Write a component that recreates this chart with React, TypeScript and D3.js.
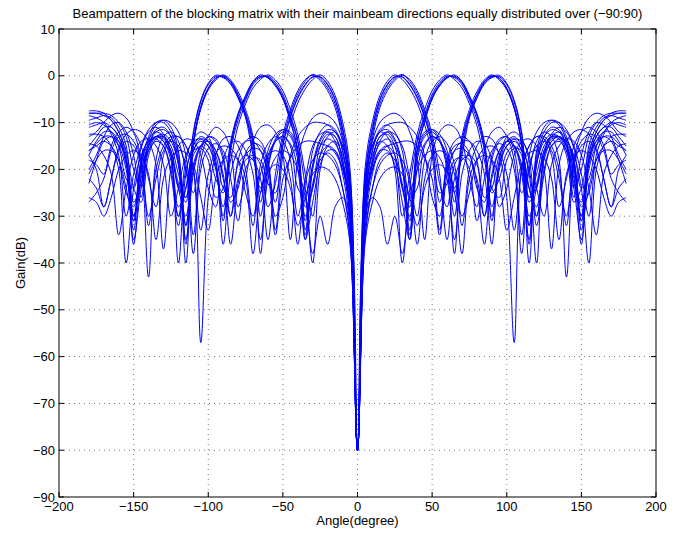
import React, { useEffect, useRef } from 'react';
import * as d3 from 'd3';

// angles of the right half (0..180 step 5); the picture is mirror-symmetric about 0
const angles = d3.range(0, 181, 5);

// beams with mainlobe near 27 deg
const beamA = [
  [-80,-22,-11,-5,-1.8,-0.2,-0.3,-2,-4.8,-9,-15,-27,-20,-16,-15.5,-17,-23,-36,-21,-16,-14,-15,-20,-32,-19,-13,-11,-11.5,-15,-26,-17,-12,-10,-10.5,-13,-17,-20],
  [-80,-25,-12.5,-6,-2.6,-0.6,0.3,-1.2,-3.8,-8,-13.5,-23,-28,-19,-17,-18,-22,-30,-18,-14,-13,-16,-25,-20,-14,-12,-13,-18,-43,-18,-12,-9,-8,-8.5,-10,-12,-13],
  [-80,-20,-9.8,-4.2,-1.2,0.2,-0.8,-2.8,-5.8,-10.5,-17,-33,-19,-15,-14.5,-16.5,-24,-27,-17,-13.5,-13,-15,-21,-35,-16,-11,-9.5,-10,-13,-19,-30,-15,-11,-9,-8.5,-9,-9.5],
  [-80,-23,-11.5,-5.2,-2,-0.3,-0.2,-1.8,-4.5,-8.8,-14.5,-25,-23,-18,-17.5,-20,-31,-22,-16,-14.5,-15.5,-20,-38,-20,-15,-14,-16,-22,-30,-19,-15,-14,-16,-22,-28,-24,-22],
  [-80,-26,-13.5,-6.8,-3.2,-1,0.1,-0.8,-3.2,-7.2,-12.5,-21,-35,-22,-18,-17,-19,-26,-24,-17,-14,-13.5,-16,-24,-28,-17,-13,-12,-13.5,-18,-33,-18,-13,-11,-11,-13,-15],
];

// beams with mainlobe near 62 deg
const beamB = [
  [-80,-26,-17,-14,-15,-20,-40,-24,-14,-9,-4.5,-1.8,-0.3,-0.2,-1.5,-4.8,-8.5,-15,-28,-20,-15,-14,-16,-24,-30,-18,-14,-13,-15,-21,-36,-19,-14,-12,-12,-14,-17],
  [-80,-28,-18,-13,-12.5,-15,-24,-30,-16,-9.8,-5,-2.2,-0.5,0.2,-1.2,-4.2,-8.4,-15,-31,-19,-14,-13,-15,-21,-40,-17,-12.5,-11,-12,-15.5,-24,-22,-15,-12,-10.5,-10,-10.5],
  [-80,-24,-15,-12,-13,-17,-30,-21,-12.5,-7.2,-3.2,-0.9,0.2,-0.8,-2.6,-6,-10.6,-18,-25,-22,-16.5,-15,-17,-27,-23,-16,-13,-13,-15,-20,-31,-17,-12,-9.5,-8.5,-8,-8],
  [-80,-30,-20,-16,-16,-19,-27,-35,-16,-9.5,-4.8,-2,-0.4,-0.1,-1.3,-4.4,-8,-14,-24,-26,-18,-15.5,-16,-20,-32,-21,-15,-13.5,-14,-18,-28,-25,-18,-15,-14,-15,-16],
  [-80,-27,-16,-12,-11.5,-13.5,-19,-33,-14,-8.4,-4,-1.4,-0.1,-0.4,-1.9,-5.2,-9.4,-16,-30,-18,-13,-12,-13.5,-18,-30,-20,-15,-14,-16,-23,-27,-18,-14,-13,-14,-18,-23],
];

// beams with mainlobe near 92 deg
const beamC = [
  [-80,-30,-18,-13,-12,-14,-20,-35,-18,-13,-12,-14,-20,-38,-14,-8,-4.2,-1.3,-0.1,-0.5,-2.6,-6.5,-14,-32,-18,-13,-11.5,-12,-15,-22,-30,-18,-13,-11,-10,-10.5,-11],
  [-80,-33,-21,-16,-15,-17,-24,-28,-16,-12,-11.5,-13.5,-19,-30,-14.5,-8.6,-4.6,-1.6,-0.2,0.1,-1.6,-5.2,-12,-26,-21,-15,-13,-13.5,-17,-27,-24,-16,-12,-9.5,-8,-7.5,-7.5],
  [-80,-28,-16,-11.5,-10.5,-12,-16,-26,-24,-15,-13,-14,-18,-27,-13,-7.2,-3.4,-0.9,0.2,-0.9,-3,-7,-15,-40,-19,-14,-12.5,-13,-16,-24,-35,-20,-15,-13,-13,-14.5,-16],
  [-80,-35,-24,-18,-16.5,-18,-23,-34,-20,-14.5,-13,-14,-17,-24,-17,-9,-4.8,-1.8,-0.4,-0.2,-1.9,-5.6,-12.5,-26,-24,-16,-13.5,-13,-14.5,-19,-31,-24,-18,-16,-16,-18,-21],
  [-80,-31,-19,-14.5,-13.5,-15,-19,-31,-17,-12.5,-11.5,-12.5,-16,-25,-16,-8.2,-4,-1.2,0,-0.6,-2.8,-7,-15,-36,-17,-12,-10,-10,-11.5,-15,-21,-30,-17,-12.5,-10,-9,-8.5],
];

// beams that stay in the sidelobe region
const beamLow = [
  [-80,-24,-14,-10,-8.5,-8,-9,-12,-18,-35,-17,-12,-10.5,-11,-14,-22,-28,-16,-12,-11,-13,-18,-34,-17,-12,-10,-9.5,-10.5,-14,-24,-20,-13,-10,-8.5,-8,-8,-8],
  [-80,-30,-19,-14,-12,-12.5,-15,-22,-30,-18,-14,-13,-14.5,-19,-32,-20,-15,-13,-13.5,-17,-26,-57,-20,-15,-13,-13.5,-17,-28,-22,-15,-12,-11,-12,-15,-22,-25,-27],
  [-80,-34,-24,-19,-17,-16.5,-18,-23,-36,-22,-17,-16,-17,-21,-30,-25,-18,-15.5,-15,-16.5,-21,-33,-20,-15,-13,-13,-15,-20,-32,-18,-14,-12.5,-13,-16,-21,-19,-18],
  [-80,-30,-26,-28,-36,-30,-38,-26,-20,-17,-16,-17.5,-22,-35,-21,-16,-14,-14.5,-18,-28,-24,-17,-14,-13.5,-15,-20,-37,-19,-14,-12,-11.5,-12.5,-15.5,-22,-28,-20,-17],
  [-80,-22,-15,-12,-10.5,-10,-10,-11,-13,-17,-26,-30,-18,-14,-13,-14,-18,-30,-22,-16,-14,-15,-19,-30,-24,-17,-14,-13,-14,-17,-24,-40,-20,-15,-13,-12.5,-12.5],
  [-80,-36,-27,-22,-20,-19.5,-21,-26,-32,-24,-20,-19,-20.5,-25,-38,-22,-18,-17,-18,-22,-33,-26,-19,-16.5,-16,-17.5,-22,-35,-21,-17,-16,-17,-20,-26,-30,-27,-26],
  [-80,-27,-20,-16.5,-15,-14.5,-14,-14,-15,-17.5,-22,-34,-21,-16,-14,-14,-16,-21,-36,-19,-15,-13.5,-14,-17,-24,-30,-19,-15,-13.5,-14,-17,-24,-34,-21,-17,-15,-14.5],
];

const xTicks = [-200, -150, -100, -50, 0, 50, 100, 150, 200];
const yTicks = [10, 0, -10, -20, -30, -40, -50, -60, -70, -80, -90];

const title = 'Beampattern of the blocking matrix with their mainbeam directions equally distributed over (\u221290:90)';

const App = () => {
  const svgRef = useRef<SVGSVGElement>(null);

  useEffect(() => {
    const svg = d3.select(svgRef.current);
    const width = 683;
    const height = 533;
    const margin = { top: 29, right: 27, bottom: 36, left: 59 };
    const innerWidth = width - margin.left - margin.right;
    const innerHeight = height - margin.top - margin.bottom;
    const font = 'Helvetica, Arial, "Liberation Sans", sans-serif';
    const fs = 13;

    const x = d3.scaleLinear().domain([-200, 200]).range([0, innerWidth]);
    const y = d3.scaleLinear().domain([-90, 10]).range([innerHeight, 0]);

    svg.append('rect').attr('width', width).attr('height', height).attr('fill', '#fff');

    const g = svg.append('g').attr('transform', `translate(${margin.left},${margin.top})`);

    g.append('defs')
      .append('clipPath')
      .attr('id', 'plot-clip')
      .append('rect')
      .attr('width', innerWidth)
      .attr('height', innerHeight);

    // dotted grid
    g.selectAll('.gx')
      .data(xTicks.slice(1, -1))
      .enter()
      .append('line')
      .attr('x1', (d) => x(d))
      .attr('x2', (d) => x(d))
      .attr('y1', 0)
      .attr('y2', innerHeight)
      .attr('stroke', '#777')
      .attr('stroke-width', 1)
      .attr('stroke-dasharray', '1,4');

    g.selectAll('.gy')
      .data(yTicks.slice(1, -1))
      .enter()
      .append('line')
      .attr('x1', 0)
      .attr('x2', innerWidth)
      .attr('y1', (d) => y(d))
      .attr('y2', (d) => y(d))
      .attr('stroke', '#777')
      .attr('stroke-width', 1)
      .attr('stroke-dasharray', '1,4');

    // beampatterns, mirrored to negative angles
    const curves = [...beamA, ...beamB, ...beamC, ...beamLow];
    const line = d3
      .line<[number, number]>()
      .x((d) => x(d[0]))
      .y((d) => y(d[1]))
      .curve(d3.curveCatmullRom.alpha(0.5));

    const plot = g.append('g').attr('clip-path', 'url(#plot-clip)');
    curves.forEach((vals) => {
      const right = angles.map((a, i) => [a, vals[i]] as [number, number]);
      const left = right.slice(1).map((p) => [-p[0], p[1]] as [number, number]).reverse();
      plot
        .append('path')
        .datum([...left, ...right])
        .attr('d', line)
        .attr('fill', 'none')
        .attr('stroke', '#0000ff')
        .attr('stroke-width', 1);
    });

    // axes box with inward ticks on all sides
    const tickLen = 5;
    const axisG = g.append('g').attr('stroke', '#000').attr('stroke-width', 1);
    axisG.append('rect')
      .attr('width', innerWidth)
      .attr('height', innerHeight)
      .attr('fill', 'none');
    xTicks.forEach((t) => {
      axisG.append('line').attr('x1', x(t)).attr('x2', x(t)).attr('y1', innerHeight).attr('y2', innerHeight - tickLen);
      axisG.append('line').attr('x1', x(t)).attr('x2', x(t)).attr('y1', 0).attr('y2', tickLen);
    });
    yTicks.forEach((t) => {
      axisG.append('line').attr('x1', 0).attr('x2', tickLen).attr('y1', y(t)).attr('y2', y(t));
      axisG.append('line').attr('x1', innerWidth).attr('x2', innerWidth - tickLen).attr('y1', y(t)).attr('y2', y(t));
    });

    const fmt = (v: number) => (v < 0 ? '\u2212' + Math.abs(v) : String(v));

    g.selectAll('.xl')
      .data(xTicks)
      .enter()
      .append('text')
      .attr('x', (d) => x(d))
      .attr('y', innerHeight + 14)
      .attr('text-anchor', 'middle')
      .attr('font-family', font)
      .attr('font-size', fs)
      .text((d) => fmt(d));

    g.selectAll('.yl')
      .data(yTicks)
      .enter()
      .append('text')
      .attr('x', -4)
      .attr('y', (d) => y(d) + 4.5)
      .attr('text-anchor', 'end')
      .attr('font-family', font)
      .attr('font-size', fs)
      .text((d) => fmt(d));

    svg.append('text')
      .attr('x', margin.left + innerWidth / 2)
      .attr('y', 18)
      .attr('text-anchor', 'middle')
      .attr('font-family', font)
      .attr('font-size', fs)
      .text(title);

    svg.append('text')
      .attr('x', margin.left + innerWidth / 2)
      .attr('y', height - 8)
      .attr('text-anchor', 'middle')
      .attr('font-family', font)
      .attr('font-size', fs)
      .text('Angle(degree)');

    svg.append('text')
      .attr('transform', `translate(25,${margin.top + innerHeight / 2}) rotate(-90)`)
      .attr('text-anchor', 'middle')
      .attr('font-family', font)
      .attr('font-size', fs)
      .text('Gain(dB)');

    return () => {
      svg.selectAll('*').remove();
    };
  }, []);

  return (
    <svg
      ref={svgRef}
      width={683}
      height={533}
      style={{ position: 'absolute', left: 0, top: 0 }}
    />
  );
};

export default App;
